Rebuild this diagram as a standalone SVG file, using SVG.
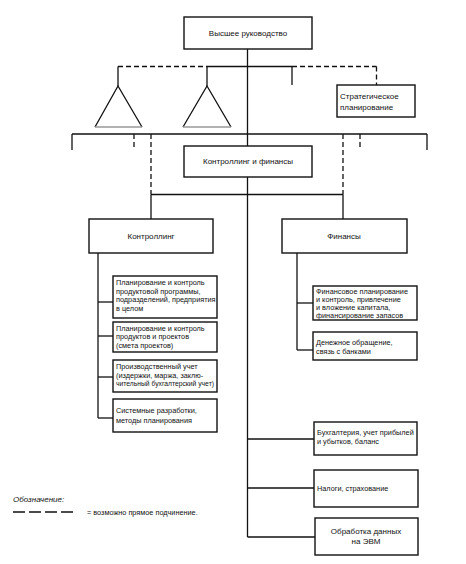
<svg xmlns="http://www.w3.org/2000/svg" width="466" height="564" viewBox="0 0 466 564">
<style>
.ln{stroke:#111;stroke-width:1.3;fill:none}
.ds{stroke:#111;stroke-width:1.3;fill:none;stroke-dasharray:5 3}
.bx{fill:#fff;stroke:#111;stroke-width:1.4}
.tri{fill:none;stroke:#111;stroke-width:1.3}
.base{stroke:#999;stroke-width:1.3}
text{font-family:"Liberation Sans",Arial,sans-serif;fill:#111}
.t8{font-size:8px}
.t7{font-size:7.3px}
.c{text-anchor:middle}
</style>
<rect width="466" height="564" fill="#fff"/>
<g id="connectors">
  <line class="ln" x1="247.5" y1="49" x2="247.5" y2="537"/>
  <line class="ds" x1="118" y1="66.5" x2="207" y2="66.5"/>
  <line class="ln" x1="207" y1="66.5" x2="292" y2="66.5"/>
  <line class="ds" x1="292" y1="66.5" x2="376.5" y2="66.5"/>
  <line class="ln" x1="118" y1="66.5" x2="118" y2="86"/>
  <line class="ln" x1="207" y1="66.5" x2="207" y2="86"/>
  <line class="ln" x1="292" y1="66.5" x2="292" y2="85"/>
  <line class="ds" x1="376.5" y1="66.5" x2="376.5" y2="85"/>
  <line class="ln" x1="72" y1="134" x2="427" y2="134"/>
  <line class="ln" x1="72" y1="134" x2="72" y2="150"/>
  <line class="ln" x1="427" y1="134" x2="427" y2="150"/>
  <line class="ds" x1="134" y1="134" x2="134" y2="150"/>
  <line class="ds" x1="360" y1="134" x2="360" y2="150"/>
  <line class="ds" x1="151" y1="134" x2="151" y2="194.5"/>
  <line class="ds" x1="343" y1="134" x2="343" y2="194.5"/>
  <line class="ln" x1="151" y1="194.5" x2="343" y2="194.5"/>
  <line class="ln" x1="151" y1="194.5" x2="151" y2="219"/>
  <line class="ln" x1="343" y1="194.5" x2="343" y2="219"/>
  <line class="ln" x1="98" y1="253" x2="98" y2="418"/>
  <line class="ln" x1="98" y1="302" x2="113" y2="302"/>
  <line class="ln" x1="98" y1="336" x2="113" y2="336"/>
  <line class="ln" x1="98" y1="377" x2="113" y2="377"/>
  <line class="ln" x1="98" y1="418" x2="113" y2="418"/>
  <line class="ln" x1="297" y1="253" x2="297" y2="350"/>
  <line class="ln" x1="297" y1="303" x2="313" y2="303"/>
  <line class="ln" x1="297" y1="350" x2="313" y2="350"/>
  <line class="ln" x1="247.5" y1="439" x2="314" y2="439"/>
  <line class="ln" x1="247.5" y1="488" x2="314" y2="488"/>
  <line class="ln" x1="247.5" y1="537" x2="315" y2="537"/>
</g>
<g id="tri1">
  <polyline class="tri" points="95,127 118,86 142,127"/>
  <line class="base" x1="95" y1="127" x2="142" y2="127"/>
</g>
<g id="tri2">
  <polyline class="tri" points="183,127 207,86 231,127"/>
  <line class="base" x1="183" y1="127" x2="231" y2="127"/>
</g>
<g id="top">
  <rect class="bx" x="184" y="17" width="128" height="32"/>
  <text class="t8 c" x="248" y="36">Высшее руководство</text>
</g>
<g id="strat">
  <rect class="bx" x="337" y="85" width="78" height="32"/>
  <text class="t8" x="340" y="99">Стратегическое</text>
  <text class="t8" x="340" y="110">планирование</text>
</g>
<g id="kif">
  <rect class="bx" x="184" y="146" width="128" height="31"/>
  <text class="t8 c" x="248" y="164">Контроллинг и финансы</text>
</g>
<g id="controlling">
  <rect class="bx" x="89" y="219" width="124" height="34"/>
  <text class="t8 c" x="151" y="239">Контроллинг</text>
</g>
<g id="finance">
  <rect class="bx" x="282" y="219" width="125" height="34"/>
  <text class="t8 c" x="344" y="239">Финансы</text>
</g>
<g id="c1">
  <rect class="bx" x="113" y="276" width="104" height="42"/>
  <text class="t7" x="116" y="285">Планирование и контроль</text>
  <text class="t7" x="116" y="293.5">продуктовой программы,</text>
  <text class="t7" x="116" y="302">подразделений, предприятия</text>
  <text class="t7" x="116" y="310.5">в целом</text>
</g>
<g id="c2">
  <rect class="bx" x="113" y="322" width="104" height="30"/>
  <text class="t7" x="116" y="330.5">Планирование и контроль</text>
  <text class="t7" x="116" y="339">продуктов и проектов</text>
  <text class="t7" x="116" y="347.5">(смета проектов)</text>
</g>
<g id="c3">
  <rect class="bx" x="113" y="360" width="104" height="32"/>
  <text class="t7" x="116" y="369">Производственный учет</text>
  <text class="t7" x="116" y="377.5">(издержки, маржа, заклю-</text>
  <text class="t7" x="116" y="386" textLength="98" lengthAdjust="spacingAndGlyphs">чительный бухгалтерский учет)</text>
</g>
<g id="c4">
  <rect class="bx" x="113" y="399" width="104" height="33"/>
  <text class="t7" x="116" y="413">Системные разработки,</text>
  <text class="t7" x="116" y="422.5">методы планирования</text>
</g>
<g id="f1">
  <rect class="bx" x="313" y="286" width="104" height="34"/>
  <text class="t7" x="316" y="294">Финансовое планирование</text>
  <text class="t7" x="316" y="302">и контроль, привлечение</text>
  <text class="t7" x="316" y="310">и вложение капитала,</text>
  <text class="t7" x="316" y="318">финансирование запасов</text>
</g>
<g id="f2">
  <rect class="bx" x="313" y="332" width="104" height="28"/>
  <text class="t7" x="316" y="345">Денежное обращение,</text>
  <text class="t7" x="316" y="354">связь с банками</text>
</g>
<g id="f3">
  <rect class="bx" x="314" y="422" width="103" height="33"/>
  <text class="t7" x="317" y="435">Бухгалтерия, учет прибылей</text>
  <text class="t7" x="317" y="444">и убытков, баланс</text>
</g>
<g id="f4">
  <rect class="bx" x="314" y="470" width="104" height="37"/>
  <text class="t7" x="317" y="491">Налоги, страхование</text>
</g>
<g id="f5">
  <rect class="bx" x="315" y="518" width="103" height="37"/>
  <text class="t8 c" x="366" y="534">Обработка данных</text>
  <text class="t8 c" x="366" y="544">на ЭВМ</text>
</g>
<g id="legend">
  <text class="t8" x="13" y="502" font-style="italic">Обозначение:</text>
  <line class="ln" x1="13" y1="512" x2="73" y2="512" stroke-dasharray="12 4"/>
  <text class="t7" x="87" y="515">= возможно прямое подчинение.</text>
</g>
</svg>
